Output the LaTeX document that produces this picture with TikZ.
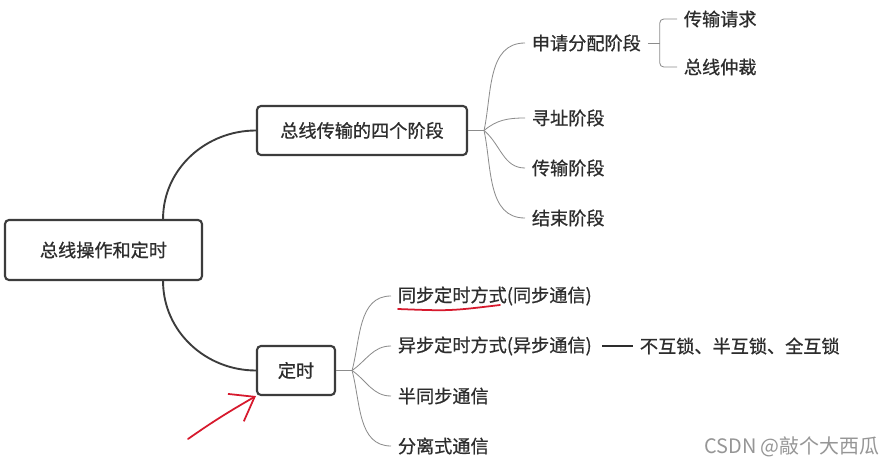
\documentclass[tikz,border=0pt]{standalone}
\usepackage{fontspec}
\setmainfont{Noto Sans CJK SC}
\newfontfamily\mapfont[FakeBold=0.8]{Noto Sans CJK SC}
\usetikzlibrary{arrows.meta, positioning, calc}
\definecolor{inkText}{RGB}{ 45,  45,  45}
\definecolor{boxEdge}{RGB}{ 60,  60,  60}
\definecolor{twigGray}{RGB}{140, 140, 140}
\definecolor{penRed}{RGB}{215,  25,  45}
\definecolor{markGray}{RGB}{150, 150, 150}
\tikzset{
  topicbox/.style 2 args={
    draw=boxEdge, fill=white, rounded corners=1.2mm, line width=1.8pt,
    minimum width=#1, minimum height=#2, inner sep=0pt,
    font=\mapfont\fontsize{15.5}{18}\selectfont, text=inkText,
  },
  leaf/.style={
    anchor=west, inner xsep=2mm, inner ysep=1pt,
    font=\mapfont\fontsize{15.5}{18}\selectfont, text=inkText,
  },
  trunk/.style={draw=boxEdge, line width=1.6pt},
  twig/.style={draw=twigGray, line width=0.7pt},
  lockline/.style={draw=inkText, line width=1pt},
  redpen/.style={draw=penRed, line width=1.5pt, line cap=round},
}

\begin{document}
\begin{tikzpicture}[x=0.3mm, y=-0.3mm]
\fill[white] (0,0) rectangle (891,465);
\useasboundingbox (0,0) rectangle (891,465);

% =========================================================================
% root and the two main topics
% =========================================================================

\node[topicbox={59.1mm}{18mm}] (root) at (103.5,250) {总线操作和定时};
\node[topicbox={63mm}{14.7mm}] (stage) at (362,130.5) {总线传输的四个阶段};
\node[topicbox={23.4mm}{14.7mm}] (timing) at (296,370.5) {定时};

\draw[trunk] ([xshift=-12mm]root.north east) to[out=90, in=180] (stage.west);
\draw[trunk] ([xshift=-12mm]root.south east) to[out=-90, in=180] (timing.west);

% =========================================================================
% four stages
% =========================================================================

\node[leaf] (apply) at (525,43)  {申请分配阶段};
\node[leaf] (addr)  at (525,118) {寻址阶段};
\node[leaf] (xfer)  at (525,168) {传输阶段};
\node[leaf] (done)  at (525,218) {结束阶段};

\node[leaf] (req) at (677,19) {传输请求};
\node[leaf] (arb) at (677,67) {总线仲裁};

\coordinate (stage-j) at ($(stage.east)+(16,0)$);
\draw[twig] (stage.east) -- (stage-j);
\foreach \n/\a in {apply/78, addr/40, xfer/-40, done/-78}{
  \draw[twig] (stage-j) to[out=\a, in=180] (\n.west);
}

\coordinate (apply-j) at ($(apply.east)+(12,0)$);
\draw[twig] (apply.east) -- (apply-j);
\draw[twig, rounded corners=1.2mm] (req.west) -| (apply-j) |- (arb.west);

% =========================================================================
% timing
% =========================================================================

\node[leaf] (sync)  at (391,296) {同步定时方式(同步通信)};
\node[leaf] (async) at (391,346) {异步定时方式(异步通信)};
\node[leaf] (semi)  at (391,396) {半同步通信};
\node[leaf] (split) at (391,446) {分离式通信};

\node[leaf] (lock) at (633,346) {不互锁、半互锁、全互锁};
\draw[lockline] ([xshift=1mm]async.east) -- (lock.west);

\coordinate (timing-j) at ($(timing.east)+(16,0)$);
\draw[twig] (timing.east) -- (timing-j);
\foreach \n/\a in {sync/75, async/35, semi/-35, split/-75}{
  \draw[twig] (timing-j) to[out=\a, in=180] (\n.west);
}

% =========================================================================
% red pen marks and watermark
% =========================================================================

\draw[redpen] (398,309) .. controls (450,311) .. (500,305);
\coordinate (pen-tail) at (188,439);
\draw[redpen, -{Straight Barb[length=6.5mm, width=9.5mm]}]
  (pen-tail) to[out=35, in=-150] (timing.south west);

\node[anchor=west, inner sep=0pt, font=\fontsize{17}{19}\selectfont,
      text=markGray] (mark) at (704,447) {CSDN @敲个大西瓜};

\end{tikzpicture}
\end{document}
